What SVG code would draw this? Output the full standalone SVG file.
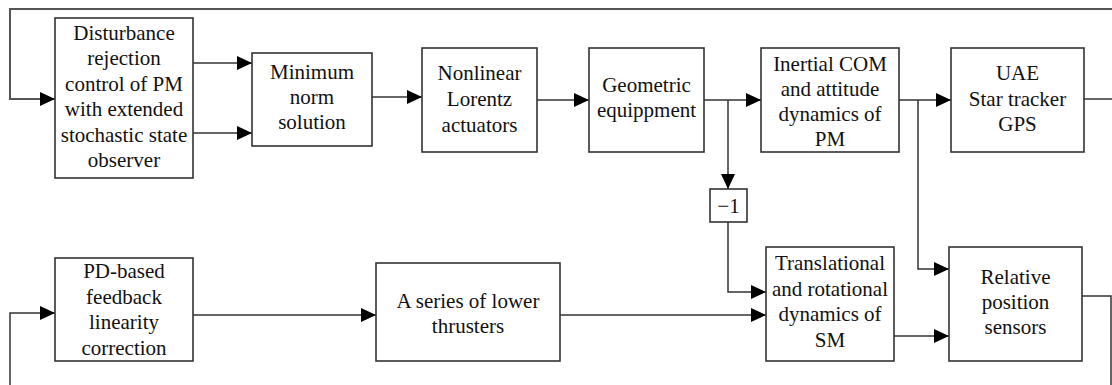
<svg xmlns="http://www.w3.org/2000/svg" width="1112" height="385" viewBox="0 0 1112 385">
<style>
.box{fill:#fff;stroke:#333;stroke-width:1.6}
.t{font-family:"Liberation Serif","Times New Roman",serif;font-size:21px;fill:#111;text-anchor:middle}
.c{fill:none;stroke:#333;stroke-width:1.5}
.top{fill:none;stroke:#555;stroke-width:2}
</style>
<defs>
<marker id="ah" markerWidth="15" markerHeight="14" refX="15" refY="7" orient="auto" markerUnits="userSpaceOnUse"><path d="M0,0 L15,7 L0,14 z" fill="#000"/></marker>
</defs>
<rect width="1112" height="385" fill="#fff"/>
<g id="connectors">
<path class="top" d="M1112 9 H10 V99 H55" marker-end="url(#ah)"/>
<path class="c" d="M193 63 H252" marker-end="url(#ah)"/>
<path class="c" d="M193 133 H252" marker-end="url(#ah)"/>
<path class="c" d="M372 97 H422" marker-end="url(#ah)"/>
<path class="c" d="M537 100 H589" marker-end="url(#ah)"/>
<path class="c" d="M704 100 H761" marker-end="url(#ah)"/>
<path class="c" d="M728 100 V189" marker-end="url(#ah)"/>
<path class="c" d="M728 222 V292 H766" marker-end="url(#ah)"/>
<path class="c" d="M899 100 H951" marker-end="url(#ah)"/>
<path class="c" d="M918 100 V269 H949" marker-end="url(#ah)"/>
<path class="c" d="M1084 99 H1112"/>
<path class="c" d="M10 385 V313 H55" marker-end="url(#ah)"/>
<path class="c" d="M193 315 H376" marker-end="url(#ah)"/>
<path class="c" d="M560 315 H766" marker-end="url(#ah)"/>
<path class="c" d="M894 336 H949" marker-end="url(#ah)"/>
<path class="c" d="M1082 296 H1111 V385"/>
</g>
<g id="n-drc">
<rect class="box" x="55" y="18" width="138" height="160"/>
<text class="t" x="124" y="40">Disturbance</text>
<text class="t" x="124" y="65.4">rejection</text>
<text class="t" x="124" y="90.8">control of PM</text>
<text class="t" x="124" y="116.2">with extended</text>
<text class="t" x="124" y="141.6">stochastic state</text>
<text class="t" x="124" y="167">observer</text>
</g>
<g id="n-mns">
<rect class="box" x="252" y="53" width="120" height="93"/>
<text class="t" x="312" y="79">Minimum</text>
<text class="t" x="312" y="104">norm</text>
<text class="t" x="312" y="129">solution</text>
</g>
<g id="n-nla">
<rect class="box" x="422" y="48" width="115" height="104"/>
<text class="t" x="479.5" y="80">Nonlinear</text>
<text class="t" x="479.5" y="106">Lorentz</text>
<text class="t" x="479.5" y="132">actuators</text>
</g>
<g id="n-geo">
<rect class="box" x="589" y="48" width="115" height="104"/>
<text class="t" x="646.5" y="92">Geometric</text>
<text class="t" x="646.5" y="117">equippment</text>
</g>
<g id="n-icom">
<rect class="box" x="761" y="48" width="138" height="104"/>
<text class="t" x="830" y="71">Inertial COM</text>
<text class="t" x="830" y="96">and attitude</text>
<text class="t" x="830" y="121">dynamics of</text>
<text class="t" x="830" y="146">PM</text>
</g>
<g id="n-uae">
<rect class="box" x="951" y="48" width="133" height="104"/>
<text class="t" x="1017.5" y="80">UAE</text>
<text class="t" x="1017.5" y="106">Star tracker</text>
<text class="t" x="1017.5" y="131">GPS</text>
</g>
<g id="n-neg">
<rect class="box" x="710" y="189" width="37" height="33"/>
<text class="t" x="728.5" y="213">−1</text>
</g>
<g id="n-pd">
<rect class="box" x="55" y="258" width="138" height="103"/>
<text class="t" x="124" y="278">PD-based</text>
<text class="t" x="124" y="304">feedback</text>
<text class="t" x="124" y="329">linearity</text>
<text class="t" x="124" y="355">correction</text>
</g>
<g id="n-thr">
<rect class="box" x="376" y="263" width="184" height="98"/>
<text class="t" x="468" y="308">A series of lower</text>
<text class="t" x="468" y="333">thrusters</text>
</g>
<g id="n-sm">
<rect class="box" x="766" y="247" width="128" height="114"/>
<text class="t" x="830" y="270">Translational</text>
<text class="t" x="830" y="296">and rotational</text>
<text class="t" x="830" y="321">dynamics of</text>
<text class="t" x="830" y="347">SM</text>
</g>
<g id="n-rps">
<rect class="box" x="949" y="247" width="133" height="114"/>
<text class="t" x="1015.5" y="284">Relative</text>
<text class="t" x="1015.5" y="309">position</text>
<text class="t" x="1015.5" y="334">sensors</text>
</g>
</svg>
